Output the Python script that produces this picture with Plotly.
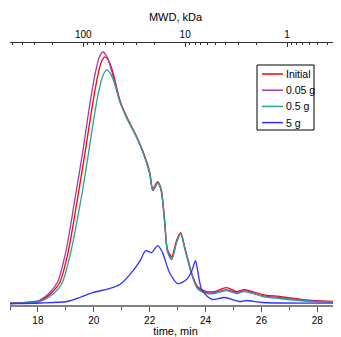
import plotly.graph_objects as go

# ---- data (time, min ; detector response, a.u.) ----
names = ["Initial", "0.05 g", "0.5 g", "5 g"]
colors = ["#FF0000", "#A23CA8", "#2E9E98", "#3030FF"]

t_initial = [17.00, 17.71, 18.07, 18.50, 18.78, 19.07, 19.41, 19.68, 19.93, 20.14, 20.27, 20.39, 20.52,
             20.68, 20.93, 21.18, 21.54, 21.82, 22.00, 22.11, 22.21, 22.29, 22.36, 22.43, 22.54, 22.64, 22.79,
             22.96, 23.11, 23.25, 23.50, 23.71, 24.04, 24.32, 24.75, 25.11, 25.39, 26.04, 26.64, 27.82, 28.85]
v_initial = [0, 1, 2.5, 11, 21, 50, 104, 150, 195, 228, 242, 247, 244,
             232, 204, 187, 167, 148, 132, 115, 119, 122, 119, 112, 82, 54, 47,
             63, 71, 57, 31, 17, 12, 12, 16, 12, 14, 9, 7, 3, 2]

t_005 = [17.00, 17.71, 18.07, 18.43, 18.71, 19.00, 19.32, 19.61, 19.86, 20.07, 20.20, 20.32, 20.46,
         20.64, 20.93, 21.18, 21.54, 21.82, 22.00, 22.11, 22.21, 22.29, 22.36, 22.43, 22.54, 22.64, 22.79,
         22.96, 23.11, 23.25, 23.50, 23.71, 24.04, 24.32, 24.75, 25.11, 25.39, 26.04, 26.64, 27.82, 28.85]
v_005 = [0, 1.5, 3.5, 11, 22, 52, 104, 153, 200, 233, 247, 252, 248,
         233, 203, 186, 166, 147, 130, 113, 117, 121, 118, 110, 80, 52, 45,
         61, 70, 56, 30, 16, 11, 11, 14, 11, 13, 8, 6, 2.5, 1.5]

t_05 = [17.00, 17.71, 18.07, 18.57, 18.86, 19.14, 19.54, 19.79, 20.00, 20.18, 20.32, 20.46, 20.60, 20.75,
        20.93, 21.18, 21.54, 21.82, 22.00, 22.11, 22.21, 22.29, 22.36, 22.43, 22.54, 22.64, 22.79,
        22.96, 23.11, 23.25, 23.50, 23.71, 24.04, 24.32, 24.75, 25.11, 25.39, 26.04, 26.64, 27.82, 28.85]
v_05 = [0, 0.8, 2, 10, 20, 47, 104, 147, 185, 213, 228, 234, 230, 220,
        202, 186, 166, 147, 131, 114, 118, 121, 118, 111, 81, 52, 44,
        61, 70, 56, 30, 15, 10, 10, 13, 10, 12, 7, 5, 2, 1.5]

t_5 = [17.00, 18.07, 19.04, 19.50, 19.96, 20.57, 20.93, 21.29, 21.64, 21.86, 22.07, 22.29, 22.46, 22.71,
       23.00, 23.32, 23.50, 23.64, 23.71, 23.86, 24.07, 24.25, 24.68, 25.21, 25.46, 26.04, 28.85]
v_5 = [0, 0.5, 2, 6, 11, 15, 19, 29, 42, 53, 51, 58, 51, 31,
       20, 24, 32, 43, 34, 14, 7, 4, 6, 2, 3, 1, 0.5]

series_t = [t_initial, t_005, t_05, t_5]
series_v = [v_initial, v_005, v_05, v_5]

time_ticks = [18, 20, 22, 24, 26, 28]
mwd_ticks = [1, 10, 100]
mwd_labels = ["1", "10", "100"]
mwd_minor = [k * 10 ** e for e in (-1, 0, 1, 2) for k in range(2, 10)]

FONT = "Liberation Sans, Arial, sans-serif"

fig = go.Figure()
for n, c, tt, vv in zip(names, colors, series_t, series_v):
    fig.add_trace(go.Scatter(x=tt, y=vv, name=n, mode="lines", showlegend=False,
                             line=dict(color=c, width=1.3, shape="spline", smoothing=0.8)))

# carrier for the molecular-weight (top) axis
fig.add_trace(go.Scatter(x=mwd_ticks, y=[0] * len(mwd_ticks), xaxis="x2", mode="markers",
                         marker=dict(opacity=0), showlegend=False, hoverinfo="skip"))

# legend box (drawn in paper coordinates)
PX0, PY0, PW, PH = 10, 305, 331, 262   # plot-area geometry on the page
def px(x): return (x - PX0) / PW
def py(y): return (PY0 - y) / PH

shapes = [dict(type="rect", xref="paper", yref="paper", x0=px(257), x1=px(314), y0=py(130), y1=py(65),
               line=dict(color="black", width=1), fillcolor="white", layer="above")]
annotations = []
for i, (n, c) in enumerate(zip(names, colors)):
    yy = py(74 + 16.2 * i)
    shapes.append(dict(type="line", xref="paper", yref="paper", x0=px(262), x1=px(283), y0=yy, y1=yy,
                       line=dict(color=c, width=1.5), layer="above"))
    annotations.append(dict(text=n, xref="paper", yref="paper", x=px(284), y=yy, xanchor="left",
                            yanchor="middle", showarrow=False, font=dict(size=10.5, color="black")))

fig.update_layout(
    width=333, height=329,
    margin=dict(l=2, r=0, t=35, b=32, pad=0),
    paper_bgcolor="white", plot_bgcolor="white",
    font=dict(family=FONT, size=10, color="black"),
    showlegend=False,
    shapes=shapes, annotations=annotations,
    xaxis=dict(range=[17, 28.85], showgrid=False, zeroline=False,
               showline=True, linecolor="#808080", linewidth=2,
               ticks="outside", ticklen=5, tickwidth=1, tickcolor="#555",
               tickvals=time_ticks, ticktext=[str(v) for v in time_ticks],
               tickfont=dict(size=10),
               minor=dict(ticks="outside", dtick=1, tick0=17, ticklen=3, tickcolor="#555", showgrid=False),
               title=dict(text="time, min", standoff=0, font=dict(size=11))),
    xaxis2=dict(type="log", range=[2.72, -0.53], overlaying="x", side="top", anchor="y",
                showgrid=False, zeroline=False, showline=True, linecolor="#333", linewidth=1,
                ticks="inside", ticklen=4, tickwidth=1, tickcolor="#333",
                tickvals=mwd_ticks, ticktext=mwd_labels, tickfont=dict(size=10),
                minor=dict(ticks="inside", tickvals=mwd_minor, ticklen=2, tickcolor="#333", showgrid=False),
                title=dict(text="MWD, kDa", standoff=5, font=dict(size=11))),
    yaxis=dict(range=[-1.5, 261], visible=False, showgrid=False, zeroline=False, fixedrange=True),
)

fig.write_html("out.html")
